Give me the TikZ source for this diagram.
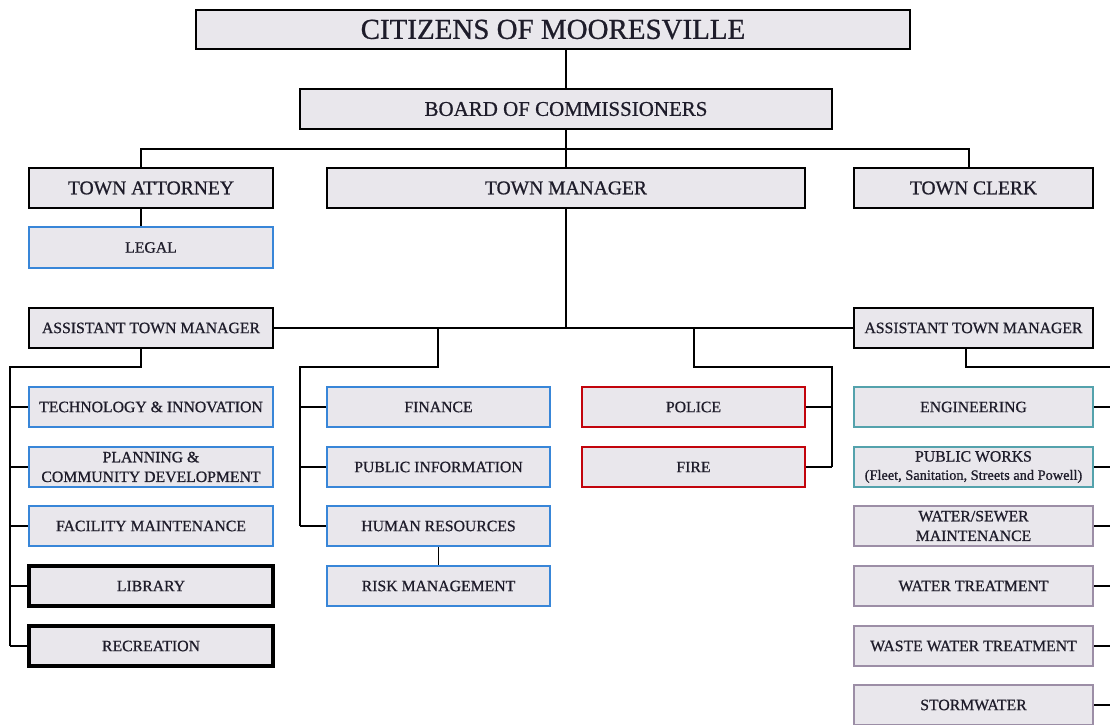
\documentclass[tikz,border=0pt]{standalone}
\usepackage{fontspec}
\setmainfont{Liberation Serif}[BoldFont=Liberation Serif, BoldFeatures={FakeBold=0.8}]
\usepackage{tikz}

\definecolor{boxfill}{RGB}{233,231,236}
\definecolor{inkdark}{RGB}{30,28,42}
\definecolor{deptblue}{RGB}{56,134,216}
\definecolor{deptred}{RGB}{194,4,12}
\definecolor{deptteal}{RGB}{84,162,172}
\definecolor{deptgrey}{RGB}{156,142,166}

\tikzset{
  office/.style={draw=black, fill=boxfill, line width=1.7pt, inner sep=1pt,
    align=center, text=inkdark, minimum height=40*\px,
    font=\fontsize{11.2}{14}\selectfont\bfseries},
  head/.style={office, font=\fontsize{13.9}{15}\selectfont\bfseries},
  dept/.style={office, line width=2.1pt, draw=#1},
  heavy/.style={office, line width=2.3pt},
  conn/.style={line width=1.4pt, draw=black}
}

\begin{document}
\begin{tikzpicture}[x=0.025cm, y=-0.025cm]
\def\px{0.025cm}
\useasboundingbox (0,0) rectangle (1110,724);
\clip (0,0) rectangle (1110,724);

% top levels
\node[office, minimum width=714*\px, minimum height=39*\px,
  font=\fontsize{20.6}{22}\selectfont\bfseries] (citizens) at (553,29.5) {CITIZENS OF MOORESVILLE};
\node[office, minimum width=532*\px, font=\fontsize{14.9}{16}\selectfont\bfseries] (board) at (566,109) {BOARD OF COMMISSIONERS};
\node[head, minimum width=244*\px] (attorney) at (151,188) {TOWN ATTORNEY};
\node[head, minimum width=478*\px] (manager) at (566,188) {TOWN MANAGER};
\node[head, minimum width=239*\px] (clerk) at (973.5,188) {TOWN CLERK};
\node[dept=deptblue, minimum width=244*\px, minimum height=41*\px] (legal) at (151,247.5) {LEGAL};
\node[office, minimum width=244*\px] (asstL) at (151,328) {ASSISTANT TOWN MANAGER};
\node[office, minimum width=239*\px] (asstR) at (973.5,328) {ASSISTANT TOWN MANAGER};

% left column
\node[dept=deptblue, minimum width=244*\px] (tech) at (151,407) {TECHNOLOGY \& INNOVATION};
\node[dept=deptblue, minimum width=244*\px] (planning) at (151,467) {PLANNING \&\\COMMUNITY DEVELOPMENT};
\node[dept=deptblue, minimum width=244*\px] (facility) at (151,526) {FACILITY MAINTENANCE};
\node[heavy, minimum width=244*\px] (library) at (151,586) {LIBRARY};
\node[heavy, minimum width=244*\px] (recreation) at (151,646) {RECREATION};

% middle columns
\node[dept=deptblue, minimum width=223*\px] (finance) at (438.5,407) {FINANCE};
\node[dept=deptblue, minimum width=223*\px] (pubinfo) at (438.5,467) {PUBLIC INFORMATION};
\node[dept=deptblue, minimum width=223*\px] (hr) at (438.5,526) {HUMAN RESOURCES};
\node[dept=deptblue, minimum width=223*\px] (risk) at (438.5,586) {RISK MANAGEMENT};
\node[dept=deptred, minimum width=223*\px] (police) at (693.5,407) {POLICE};
\node[dept=deptred, minimum width=223*\px] (fire) at (693.5,467) {FIRE};

% right column
\node[dept=deptteal, minimum width=239*\px] (eng) at (973.5,407) {ENGINEERING};
\node[dept=deptteal, minimum width=239*\px] (works) at (973.5,467)
  {PUBLIC WORKS\\[-1pt]{\fontsize{10.2}{11}\selectfont (Fleet, Sanitation, Streets and Powell)}};
\node[dept=deptgrey, minimum width=239*\px] (sewer) at (973.5,526) {WATER/SEWER\\MAINTENANCE};
\node[dept=deptgrey, minimum width=239*\px] (water) at (973.5,586) {WATER TREATMENT};
\node[dept=deptgrey, minimum width=239*\px] (waste) at (973.5,646) {WASTE WATER TREATMENT};
\node[dept=deptgrey, minimum width=239*\px] (storm) at (973.5,705) {STORMWATER};

% connectors
\coordinate (busL) at (141,149);
\coordinate (busR) at (969,149);
\draw[conn] (citizens.south -| board.north) -- (board.north);
\draw[conn] (board.south) -- (manager.north);
\draw[conn] (attorney.north -| busL) -- (busL) -- (busR) -- (clerk.north -| busR);
\draw[conn] (attorney.south -| busL) -- (legal.north -| busL);
\draw[conn] (manager.south) -- (manager.south |- asstL.east);
\draw[conn] (asstL.east) -- (asstR.west);

\coordinate (lturn) at (141,367);
\coordinate (lspine) at (10,367);
\draw[conn] (asstL.south -| lturn) -- (lturn) -- (lspine) -- (lspine |- recreation.west);
\foreach \n in {tech,planning,facility,library,recreation}
  \draw[conn] (lspine |- \n.west) -- (\n.west);

\coordinate (mturn) at (438,367);
\coordinate (mspine) at (300,367);
\draw[conn] (mturn |- asstL.east) -- (mturn) -- (mspine) -- (mspine |- hr.west);
\foreach \n in {finance,pubinfo,hr}
  \draw[conn] (mspine |- \n.west) -- (\n.west);
\draw[conn] (hr.south) -- (risk.north);

\coordinate (pturn) at (694,367);
\coordinate (pspine) at (832,367);
\draw[conn] (pturn |- asstL.east) -- (pturn) -- (pspine) -- (pspine |- fire.east);
\foreach \n in {police,fire}
  \draw[conn] (\n.east) -- (\n.east -| pspine);

\coordinate (rturn) at (966,367);
\coordinate (rspine) at (1116,367);
\draw[conn] (asstR.south -| rturn) -- (rturn) -- (rspine) -- (rspine |- storm.east);
\foreach \n in {eng,works,sewer,water,waste,storm}
  \draw[conn] (\n.east) -- (\n.east -| rspine);
\end{tikzpicture}
\end{document}
